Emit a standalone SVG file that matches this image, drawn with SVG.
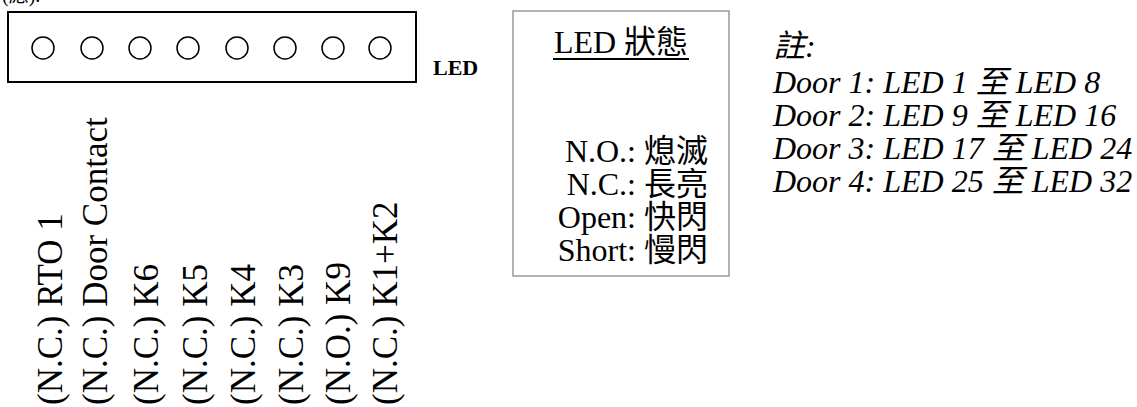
<svg xmlns="http://www.w3.org/2000/svg" width="1137" height="407" viewBox="0 0 1137 407">
<style>
.serif{font-family:"Liberation Serif","Times New Roman","Noto Sans CJK TC",serif;fill:#000}
.led{fill:none;stroke:#000;stroke-width:1.5}
.vl{font-size:35px}
.st{font-size:32px}
.note{font-size:32px;font-style:italic}
</style>
<rect width="1137" height="407" fill="#fff"/>
<text class="serif" x="2" y="2" font-size="20">(應).</text>
<g id="led-panel">
<rect x="8" y="12" width="408" height="70" fill="none" stroke="#000" stroke-width="2"/>
<circle class="led" cx="43" cy="48" r="11"/>
<circle class="led" cx="92" cy="48" r="11"/>
<circle class="led" cx="140" cy="48" r="11"/>
<circle class="led" cx="188" cy="48" r="11"/>
<circle class="led" cx="237" cy="48" r="11"/>
<circle class="led" cx="285" cy="48" r="11"/>
<circle class="led" cx="333" cy="48" r="11"/>
<circle class="led" cx="380" cy="48" r="11"/>
</g>
<g id="led-label">
<text class="serif" x="433" y="75" font-size="22" font-weight="bold">LED</text>
</g>
<g id="inputs">
<text class="serif vl" transform="translate(62,405) rotate(-90)">(N.C.) RTO 1</text>
<text class="serif vl" transform="translate(107,405) rotate(-90)">(N.C.) Door Contact</text>
<text class="serif vl" transform="translate(158,405) rotate(-90)">(N.C.) K6</text>
<text class="serif vl" transform="translate(207,405) rotate(-90)">(N.C.) K5</text>
<text class="serif vl" transform="translate(255,405) rotate(-90)">(N.C.) K4</text>
<text class="serif vl" transform="translate(303,405) rotate(-90)">(N.C.) K3</text>
<text class="serif vl" transform="translate(350,405) rotate(-90)">(N.O.) K9</text>
<text class="serif vl" transform="translate(397,405) rotate(-90)">(N.C.) K1+K2</text>
</g>
<g id="status-box">
<rect x="513" y="11" width="216" height="265" fill="#fff" stroke="#999" stroke-width="1.5"/>
<text class="serif st" x="621" y="53" text-anchor="middle">LED 狀態</text>
<line x1="553" y1="59" x2="689" y2="59" stroke="#000" stroke-width="2"/>
<text class="serif st" x="708" y="162" text-anchor="end">N.O.: 熄滅</text>
<text class="serif st" x="708" y="195" text-anchor="end">N.C.: 長亮</text>
<text class="serif st" x="708" y="228" text-anchor="end">Open: 快閃</text>
<text class="serif st" x="708" y="261" text-anchor="end">Short: 慢閃</text>
</g>
<g id="notes">
<text class="serif note" x="773" y="57">註:</text>
<text class="serif note" x="773" y="93">Door 1: LED 1 至 LED 8</text>
<text class="serif note" x="773" y="126">Door 2: LED 9 至 LED 16</text>
<text class="serif note" x="773" y="159">Door 3: LED 17 至 LED 24</text>
<text class="serif note" x="773" y="192">Door 4: LED 25 至 LED 32</text>
</g>
</svg>
